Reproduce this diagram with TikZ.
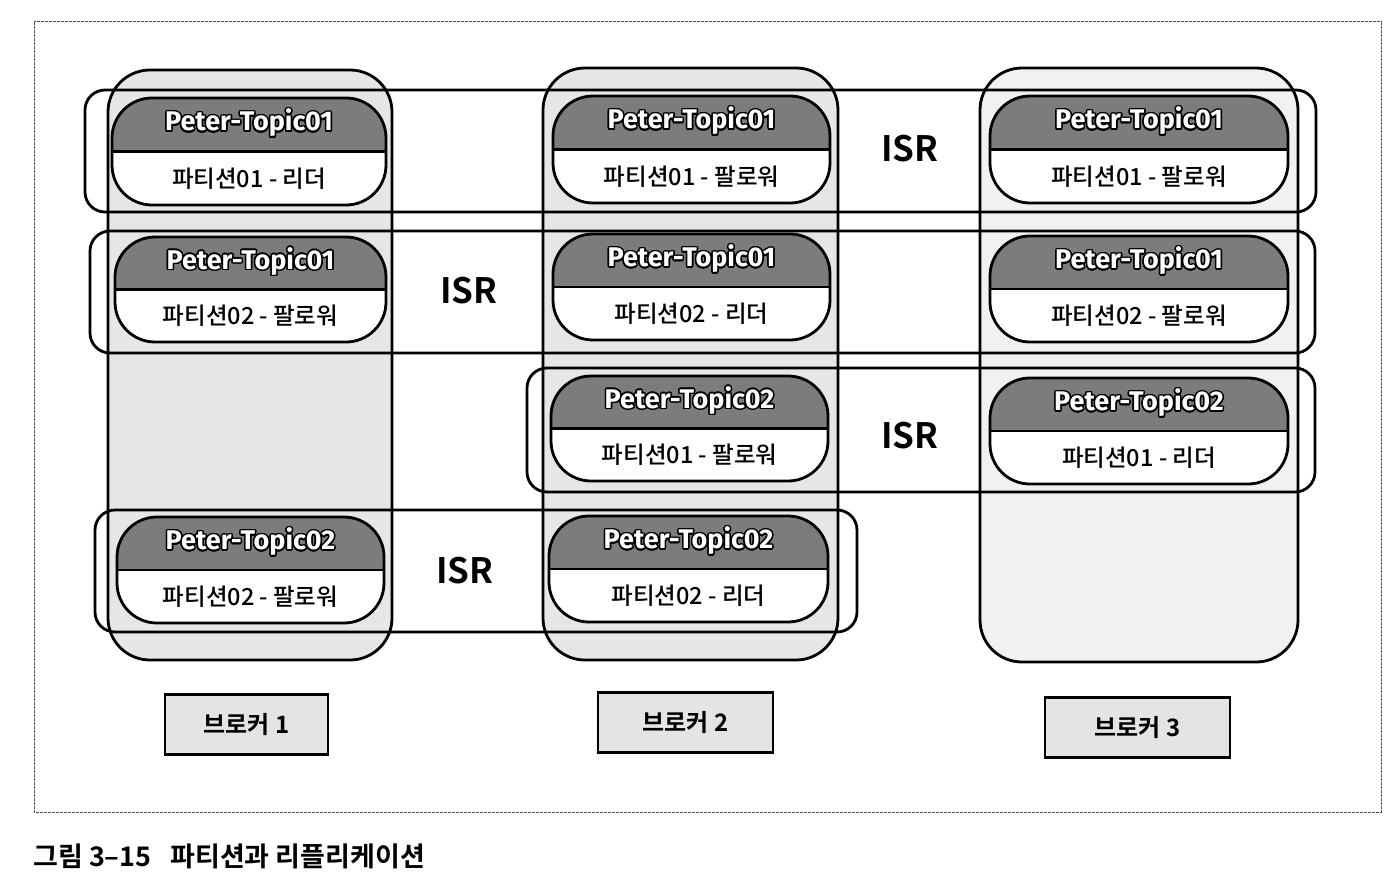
\documentclass[tikz,border=0pt]{standalone}
\usepackage{fontspec}
\usepackage{contour}
\usetikzlibrary{fit,calc}
\newfontfamily\kr{Noto Sans CJK KR}[BoldFont={Noto Sans CJK KR Bold}]
\newfontfamily\krm{Noto Sans CJK KR Medium}
\newfontfamily\topicfont{Fira Sans}
\contourlength{1.5pt}
\definecolor{topgray}{HTML}{7C7C7C}
\definecolor{colgray}{HTML}{E6E6E6}
\definecolor{colgrayb}{HTML}{F1F1F1}
\definecolor{labgray}{HTML}{E4E4E4}
\tikzset{
  thickline/.style={line width=2.8pt, draw=black},
  colbox/.style={thickline, rounded corners=42pt},
  rowbox/.style={thickline, rounded corners=20pt},
  topictxt/.style={font=\topicfont\bfseries\fontsize{27}{30}\selectfont, inner sep=0pt},
  parttxt/.style={font=\krm\fontsize{23.5}{26}\selectfont, inner sep=0pt},
  isrtxt/.style={font=\kr\bfseries\fontsize{35}{38}\selectfont, inner sep=0pt},
  brokerbox/.style={thickline, fill=labgray, inner sep=0pt, font=\kr\bfseries\fontsize{24}{27}\selectfont},
  frame/.style={line width=1pt, draw=black!70, dash pattern=on 3pt off 1pt},
}
\newcommand{\partbox}[7]{%
  \path (#2,#3) coordinate (#1-nw) (#4,#5) coordinate (#1-se);
  \node[inner sep=0pt, outer sep=0pt, fit=(#1-nw)(#1-se)] (#1) {};
  \begin{scope}
    \clip[rounded corners=40pt] (#1.north west) rectangle (#1.south east);
    \fill[white] (#1.north west) rectangle (#1.south east);
    \fill[topgray] (#1.north west) rectangle (#1.east);
  \end{scope}
  \draw[thickline, rounded corners=40pt] (#1.north west) rectangle (#1.south east);
  \draw[thickline] (#1.west) -- (#1.east);
  \node[topictxt] (#1-t) at ($(#1.north)!0.5!(#1.center)+(0,-1)$) {\contour{black}{\textcolor{white}{#6}}};
  \node[parttxt] (#1-l) at ($(#1.south)!0.5!(#1.center)$) {#7};
}
\begin{document}
\begin{tikzpicture}[x=1pt,y=-1pt]
\useasboundingbox (0,0) rectangle (1400,883);
\fill[white] (0,0) rectangle (1400,883);
% outer frame
\draw[frame] (34,22) rectangle (1381,812);
% broker columns
\draw[colbox, fill=colgray] (108,70) rectangle (392,660);
\draw[colbox, fill=colgray] (543,68) rectangle (838,660);
\draw[colbox, fill=colgrayb] (980,68) rectangle (1298,662);
% partitions
\partbox{a1}{112}{98}{386}{205}{Peter-Topic01}{파티션01 - 리더}
\partbox{a2}{115}{237}{386}{342}{Peter-Topic01}{파티션02 - 팔로워}
\partbox{a4}{117}{517}{384}{623}{Peter-Topic02}{파티션02 - 팔로워}
\partbox{b1}{553}{96}{830}{203}{Peter-Topic01}{파티션01 - 팔로워}
\partbox{b2}{553}{234}{830}{340}{Peter-Topic01}{파티션02 - 리더}
\partbox{b3}{551}{376}{828}{481}{Peter-Topic02}{파티션01 - 팔로워}
\partbox{b4}{549}{516}{828}{622}{Peter-Topic02}{파티션02 - 리더}
\partbox{c1}{990}{96}{1288}{203}{Peter-Topic01}{파티션01 - 팔로워}
\partbox{c2}{990}{236}{1288}{342}{Peter-Topic01}{파티션02 - 팔로워}
\partbox{c3}{990}{378}{1288}{484}{Peter-Topic02}{파티션01 - 리더}
% ISR rows
\draw[rowbox] (85,90) rectangle (1316,212);
\draw[rowbox] (90,231) rectangle (1315,353);
\draw[rowbox] (527,368) rectangle (1315,492);
\draw[rowbox] (95,510) rectangle (857,632);
\node[isrtxt] (isr1) at (910,149) {ISR};
\node[isrtxt] (isr2) at (469,291) {ISR};
\node[isrtxt] (isr3) at (910,436) {ISR};
\node[isrtxt] (isr4) at (465,571) {ISR};
% broker labels
\node[brokerbox, minimum width=163pt, minimum height=60pt] (k1) at (246.5,724.5) {브로커 1};
\node[brokerbox, minimum width=175pt, minimum height=60pt] (k2) at (685.5,722.5) {브로커 2};
\node[brokerbox, minimum width=185pt, minimum height=60pt] (k3) at (1137.5,727.5) {브로커 3};
% caption
\node[anchor=base west, inner sep=0pt, font=\kr\bfseries\fontsize{27}{30}\selectfont] (cap) at (33,866) {그림 3–15\hspace{0.7em}파티션과 리플리케이션};
\end{tikzpicture}
\end{document}
